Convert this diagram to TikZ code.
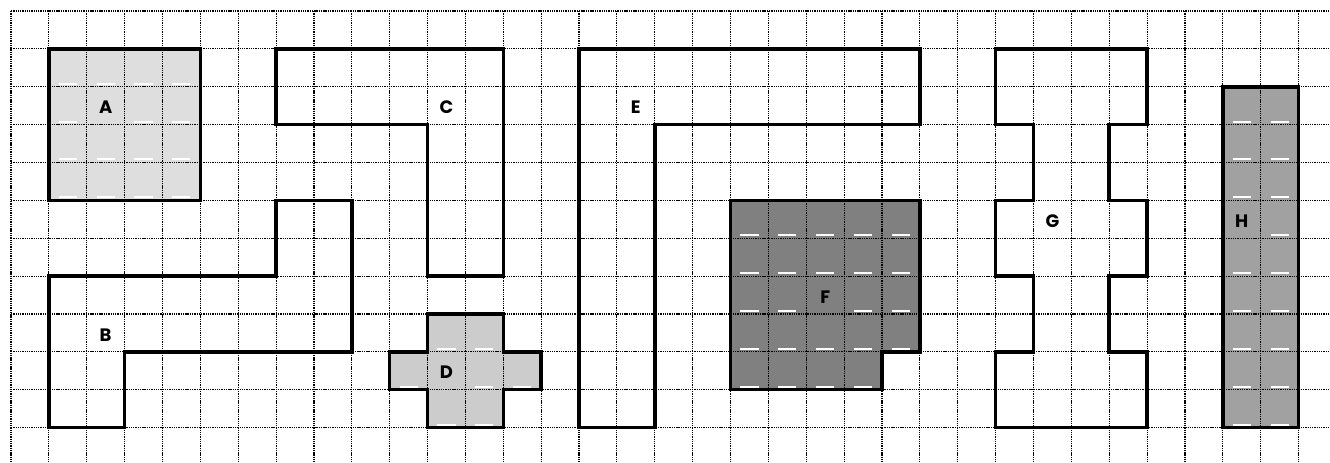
\documentclass[tikz,border=0pt]{standalone}
\usepackage{fontspec}
\newfontfamily\lblfont{Poppins}

\begin{document}
\begin{tikzpicture}[
  gridline/.style={draw=black, line width=0.85pt, dash pattern=on 1pt off 0.7pt},
  piece/.style={draw=black, line width=2.7pt, line join=miter},
  cellmark/.style={draw=white, line width=1.5pt},
  lbl/.style={font=\lblfont\bfseries\fontsize{13.5}{15}\selectfont, inner sep=0pt},
]

% --- page ---
\fill[white] (-0.29,0.29) rectangle (34.83,-11.91);
\useasboundingbox (-0.29,0.29) rectangle (34.83,-11.91);

% --- pieces ---
\filldraw[piece, fill=black!13] (1,-1) rectangle (5,-5);
\draw[piece] (1,-7) -- (7,-7) -- (7,-5) -- (9,-5) -- (9,-9) -- (3,-9) -- (3,-11) -- (1,-11) -- cycle;
\draw[piece] (7,-1) -- (13,-1) -- (13,-7) -- (11,-7) -- (11,-3) -- (7,-3) -- cycle;
\filldraw[piece, fill=black!20] (11,-8) -- (13,-8) -- (13,-9) -- (14,-9) -- (14,-10) -- (13,-10)
  -- (13,-11) -- (11,-11) -- (11,-10) -- (10,-10) -- (10,-9) -- (11,-9) -- cycle;
\draw[piece] (15,-1) -- (24,-1) -- (24,-3) -- (17,-3) -- (17,-11) -- (15,-11) -- cycle;
\filldraw[piece, fill=black!50] (19,-5) -- (24,-5) -- (24,-9) -- (23,-9) -- (23,-10) -- (19,-10) -- cycle;
\draw[piece] (26,-1) -- (30,-1) -- (30,-3) -- (29,-3) -- (29,-5) -- (30,-5) -- (30,-7) -- (29,-7)
  -- (29,-9) -- (30,-9) -- (30,-11) -- (26,-11) -- (26,-9) -- (27,-9) -- (27,-7) -- (26,-7)
  -- (26,-5) -- (27,-5) -- (27,-3) -- (26,-3) -- cycle;
\filldraw[piece, fill=black!37] (32,-2) rectangle (34,-11);

% --- grid ---
\foreach \j in {0,...,11}
  \draw[gridline] (0,-\j) -- (34.83,-\j);
\foreach \i in {0,...,34}
  \draw[gridline] (\i,0) -- (\i,-11.91);

% --- cell marks ---
\foreach \i/\j in {1/1,2/1,3/1,4/1,1/2,3/2,4/2,1/3,2/3,3/3,4/3,1/4,2/4,3/4,4/4,
    11/8,12/8,10/9,12/9,13/9,11/10,12/10,
    19/5,20/5,21/5,22/5,23/5,19/6,20/6,21/6,22/6,23/6,19/7,20/7,22/7,23/7,
    19/8,20/8,21/8,22/8,23/8,19/9,20/9,21/9,22/9,
    32/2,33/2,32/3,33/3,32/4,33/4,33/5,32/6,33/6,32/7,33/7,32/8,33/8,32/9,33/9,32/10,33/10}
  \draw[cellmark] ({\i+0.26},{-\j-0.92}) -- ({\i+0.74},{-\j-0.92});

% --- labels ---
\node[lbl] (lblA) at (2.5,-2.55)  {A};
\node[lbl] (lblB) at (2.5,-8.55)  {B};
\node[lbl] (lblC) at (11.5,-2.55) {C};
\node[lbl] (lblD) at (11.5,-9.55) {D};
\node[lbl] (lblE) at (16.5,-2.55) {E};
\node[lbl] (lblF) at (21.5,-7.55) {F};
\node[lbl] (lblG) at (27.5,-5.55) {G};
\node[lbl] (lblH) at (32.5,-5.55) {H};

\end{tikzpicture}
\end{document}
